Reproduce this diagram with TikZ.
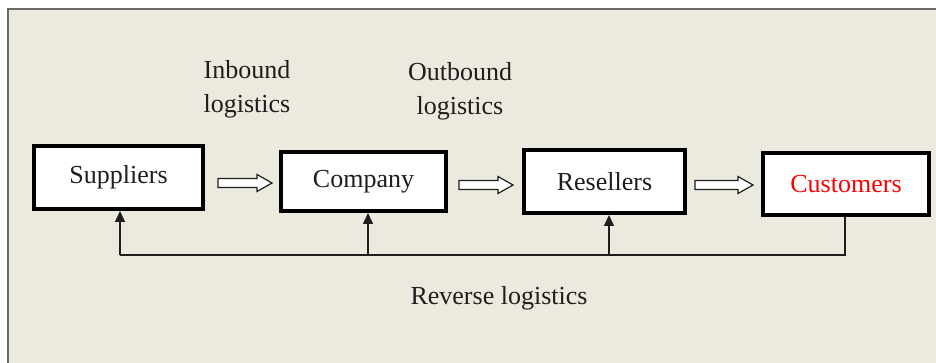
\documentclass[tikz,border=0pt]{standalone}
\usepackage{fontspec}
\setmainfont{Liberation Serif}
\usetikzlibrary{arrows.meta}
\definecolor{panel}{HTML}{ECE9DF}
\definecolor{frameline}{HTML}{6A6A66}
\definecolor{ink}{HTML}{1E1E1E}
\tikzset{
  stage/.style={draw=black, line width=4pt, fill=white, rectangle, inner sep=0pt,
    font=\fontsize{26}{31}\selectfont, text=ink},
  flowline/.style={draw=ink, line width=1.2pt, fill=white, line join=miter},
  lbl/.style={font=\fontsize{26}{34}\selectfont, text=ink, align=center},
  back/.style={draw=ink, line width=1.3pt},
  backup/.style={back, -{Triangle[length=11pt,width=10pt]}}
}
% hollow block arrow of length #2 starting at the named coordinate #1
\newcommand{\blockarrow}[2]{%
  \begin{scope}[shift={(#1)}]
    \draw[flowline] (0,-4.5) -- ({#2-15},-4.5) -- ({#2-15},-8.5) -- (#2,0)
      -- ({#2-15},8.5) -- ({#2-15},4.5) -- (0,4.5) -- cycle;
  \end{scope}}
\begin{document}
\begin{tikzpicture}[x=1pt,y=-1pt]
  \useasboundingbox (0,0) rectangle (936,363);
  % panel with its frame on the top and left
  \fill[white] (0,0) rectangle (936,363);
  \fill[panel] (8,9) rectangle (936,363);
  \draw[frameline, line width=2pt] (8,363) -- (8,9) -- (936,9);

  % stages of the chain
  \node[stage, minimum width=169pt, minimum height=63pt] (sup) at (118.5,177.5) {Suppliers};
  \node[stage, minimum width=165pt, minimum height=59pt] (com) at (363.5,181.5) {Company};
  \node[stage, minimum width=161pt, minimum height=63pt] (res) at (604.5,181.5) {Resellers};
  \node[stage, minimum width=166pt, minimum height=62pt, text=red] (cus) at (846,184) {Customers};

  % forward flow
  \coordinate (f1) at (218,183);
  \coordinate (f2) at (459,185);
  \coordinate (f3) at (695,185);
  \blockarrow{f1}{54}
  \blockarrow{f2}{54}
  \blockarrow{f3}{58}

  % labels
  \node[lbl] (inb) at (247,89) {Inbound\\logistics};
  \node[lbl] (outb) at (460,91.5) {Outbound\\logistics};
  \node[lbl] (rev) at (499,298) {Reverse logistics};

  % reverse flow
  \coordinate (bus) at (0,255);
  \draw[back] (845,0 |- cus.south) -- (845,0 |- bus) -- (120,0 |- bus);
  \draw[backup] (120,0 |- bus) -- (120,0 |- sup.south);
  \draw[backup] (368,0 |- bus) -- (368,0 |- com.south);
  \draw[backup] (609,0 |- bus) -- (609,0 |- res.south);
\end{tikzpicture}
\end{document}
